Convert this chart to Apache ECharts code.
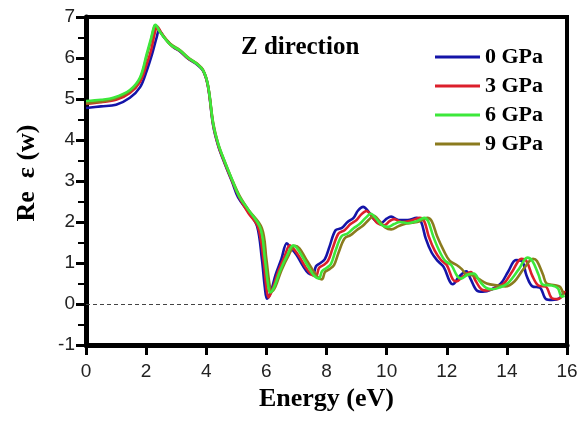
<!DOCTYPE html>
<html>
<head>
<meta charset="utf-8">
<script src="https://cdn.jsdelivr.net/npm/echarts@6/dist/echarts.min.js"></script>
</head>
<body style="margin:0">
<div id="chart" style="width:583px;height:421px"></div>
<script>
// legend names
var names = ['0 GPa', '3 GPa', '6 GPa', '9 GPa'];
var colors = ['#1414a8', '#dc1f2b', '#3ce83a', '#8b7b1e'];

// [energy (eV), Re eps]
var gpa0 = [[0,4.78],[0.5,4.82],[1,4.86],[1.46,5.03],[1.8,5.29],[2.02,5.69],[2.2,6.1],[2.35,6.5],[2.43,6.67],[2.6,6.5],[2.9,6.27],[3.13,6.16],[3.4,5.98],[3.68,5.85],[3.9,5.68],[4.06,5.3],[4.23,4.35],[4.4,3.85],[4.6,3.45],[4.85,3.0],[5.06,2.6],[5.4,2.25],[5.69,1.9],[5.85,1.1],[5.95,0.4],[6.02,0.13],[6.15,0.3],[6.3,0.7],[6.5,1.1],[6.68,1.48],[6.8,1.38],[7.0,1.2],[7.2,0.95],[7.4,0.75],[7.55,0.72],[7.65,0.92],[7.8,1.0],[7.95,1.1],[8.1,1.4],[8.3,1.8],[8.5,1.85],[8.7,2.0],[8.9,2.1],[9.05,2.28],[9.22,2.37],[9.4,2.25],[9.6,2.05],[9.8,1.97],[10.0,2.08],[10.15,2.13],[10.4,2.05],[10.7,2.05],[11.0,2.1],[11.15,2.0],[11.3,1.6],[11.5,1.25],[11.7,1.05],[11.9,0.9],[12.1,0.55],[12.2,0.48],[12.4,0.66],[12.65,0.8],[12.8,0.6],[13.0,0.33],[13.2,0.3],[13.5,0.36],[13.8,0.5],[14.05,0.8],[14.3,1.07],[14.5,1.05],[14.65,0.7],[14.85,0.43],[15.1,0.4],[15.3,0.12],[15.5,0.1],[15.75,0.14],[15.9,0.3]];
var gpa3 = [[0,4.88],[0.5,4.92],[1,4.98],[1.46,5.15],[1.8,5.42],[2.02,5.85],[2.17,6.2],[2.3,6.65],[2.37,6.77],[2.5,6.62],[2.8,6.33],[3.13,6.17],[3.4,5.99],[3.68,5.86],[3.9,5.69],[4.06,5.3],[4.23,4.38],[4.4,3.87],[4.6,3.47],[4.85,3.02],[5.1,2.6],[5.4,2.22],[5.72,1.88],[5.9,1.1],[6.0,0.4],[6.07,0.16],[6.2,0.35],[6.4,0.8],[6.6,1.15],[6.78,1.43],[6.9,1.35],[7.1,1.15],[7.3,0.9],[7.5,0.72],[7.65,0.68],[7.75,0.88],[7.9,0.95],[8.05,1.05],[8.2,1.35],[8.4,1.72],[8.6,1.8],[8.8,1.95],[9.0,2.05],[9.15,2.18],[9.33,2.27],[9.5,2.15],[9.7,1.97],[9.92,1.92],[10.1,2.02],[10.25,2.07],[10.5,2.0],[10.8,2.03],[11.1,2.1],[11.25,2.02],[11.4,1.65],[11.6,1.3],[11.8,1.08],[12.0,0.95],[12.2,0.6],[12.32,0.55],[12.55,0.68],[12.8,0.78],[12.95,0.58],[13.15,0.36],[13.35,0.33],[13.6,0.38],[13.9,0.5],[14.2,0.82],[14.48,1.1],[14.65,1.05],[14.85,0.68],[15.05,0.45],[15.3,0.42],[15.5,0.14],[15.7,0.12],[15.85,0.2],[15.92,0.32]];
var gpa6 = [[0,4.95],[0.5,4.98],[0.91,5.03],[1.46,5.22],[1.8,5.53],[2.02,6.1],[2.17,6.5],[2.27,6.78],[2.31,6.81],[2.45,6.65],[2.8,6.33],[3.13,6.18],[3.4,6.0],[3.68,5.86],[3.9,5.69],[4.06,5.32],[4.23,4.4],[4.4,3.9],[4.6,3.5],[4.85,3.05],[5.1,2.62],[5.4,2.3],[5.8,1.85],[5.95,1.1],[6.05,0.5],[6.12,0.28],[6.25,0.4],[6.45,0.8],[6.7,1.2],[6.89,1.43],[7.0,1.38],[7.2,1.15],[7.4,0.9],[7.6,0.68],[7.75,0.62],[7.85,0.8],[8.0,0.88],[8.15,0.98],[8.3,1.3],[8.5,1.65],[8.7,1.72],[8.9,1.85],[9.1,1.95],[9.3,2.1],[9.48,2.2],[9.65,2.08],[9.85,1.92],[10.05,1.88],[10.25,1.95],[10.45,2.0],[10.7,1.97],[11.0,2.02],[11.25,2.1],[11.38,2.02],[11.55,1.65],[11.75,1.3],[11.95,1.05],[12.15,0.95],[12.35,0.68],[12.48,0.62],[12.7,0.72],[12.9,0.74],[13.1,0.55],[13.3,0.4],[13.5,0.36],[13.75,0.4],[14.05,0.52],[14.4,0.85],[14.68,1.13],[14.85,1.05],[15.05,0.72],[15.2,0.47],[15.5,0.45],[15.7,0.38],[15.82,0.18],[15.92,0.2]];
var gpa9 = [[0,4.9],[0.5,4.94],[0.91,5.0],[1.46,5.19],[1.8,5.5],[2.02,6.05],[2.17,6.45],[2.27,6.76],[2.32,6.79],[2.45,6.65],[2.8,6.35],[3.13,6.19],[3.4,6.01],[3.68,5.87],[3.9,5.7],[4.06,5.33],[4.23,4.42],[4.4,3.9],[4.6,3.5],[4.85,3.05],[5.1,2.65],[5.4,2.3],[5.85,1.85],[6.0,1.1],[6.1,0.5],[6.17,0.3],[6.3,0.42],[6.5,0.82],[6.75,1.2],[6.95,1.42],[7.1,1.36],[7.3,1.12],[7.5,0.88],[7.7,0.66],[7.85,0.6],[7.95,0.78],[8.1,0.85],[8.25,0.95],[8.4,1.25],[8.6,1.6],[8.8,1.68],[9.0,1.8],[9.2,1.9],[9.4,2.05],[9.58,2.15],[9.75,2.03],[9.95,1.87],[10.15,1.82],[10.4,1.9],[10.6,1.95],[10.85,1.98],[11.1,2.02],[11.35,2.1],[11.5,2.02],[11.68,1.65],[11.9,1.3],[12.1,1.05],[12.33,0.95],[12.5,0.85],[12.65,0.72],[12.85,0.7],[13.05,0.62],[13.33,0.5],[13.7,0.45],[13.95,0.43],[14.25,0.55],[14.55,0.85],[14.87,1.1],[15.0,1.05],[15.2,0.72],[15.32,0.5],[15.6,0.46],[15.77,0.42],[15.88,0.22]];

var serif = '"Liberation Serif", serif';
var sans = '"Liberation Sans", sans-serif';

var chart = echarts.init(document.getElementById('chart'));

function lineSeries(i, data) {
    return {
        name: names[i],
        type: 'line',
        data: data,
        smooth: 0.35,
        showSymbol: false,
        lineStyle: {color: colors[i], width: 2.6},
        itemStyle: {color: colors[i]}
    };
}

// green is drawn last so it sits on top, legend order kept via legend.data
var series = [
    lineSeries(0, gpa0),
    lineSeries(1, gpa3),
    lineSeries(3, gpa9),
    lineSeries(2, gpa6)
];
// dashed zero line
series[0].markLine = {
    silent: true,
    symbol: 'none',
    label: {show: false},
    lineStyle: {color: '#444', type: [4, 3], width: 1},
    data: [{yAxis: 0}]
};

chart.setOption({
    animation: false,
    backgroundColor: '#fff',
    title: {
        text: 'Z direction',
        left: 236,
        top: 30,
        textStyle: {fontFamily: serif, fontWeight: 'bold', fontSize: 25, color: '#000'}
    },
    legend: {
        orient: 'vertical',
        left: 430,
        top: 41,
        icon: 'rect',
        itemWidth: 45,
        itemHeight: 3,
        itemGap: 7,
        data: names,
        textStyle: {fontFamily: serif, fontWeight: 'bold', fontSize: 22, color: '#000'}
    },
    grid: {left: 86, right: 16, top: 17, bottom: 76},
    xAxis: {
        type: 'value',
        min: 0, max: 16, interval: 2,
        name: 'Energy (eV)',
        nameLocation: 'middle',
        nameGap: 37,
        nameTextStyle: {fontFamily: serif, fontWeight: 'bold', fontSize: 26, color: '#000'},
        axisLine: {onZero: false, lineStyle: {color: '#000', width: 5}},
        axisTick: {show: true, length: 10, lineStyle: {color: '#000', width: 3}},
        axisLabel: {fontFamily: sans, fontSize: 19, color: '#222', margin: 17},
        splitLine: {show: false}
    },
    yAxis: {
        type: 'value',
        min: -1, max: 7, interval: 1,
        name: 'Re  \u03b5 (w)',
        nameLocation: 'middle',
        nameGap: 46,
        nameTextStyle: {fontFamily: serif, fontWeight: 'bold', fontSize: 26, color: '#000', padding: [0, 0, 0, 16]},
        axisLine: {show: true, onZero: false, lineStyle: {color: '#000', width: 5}},
        axisTick: {show: true, length: 10, lineStyle: {color: '#000', width: 3}},
        minorTick: {show: true, splitNumber: 2, length: 8, lineStyle: {color: '#000', width: 2}},
        axisLabel: {fontFamily: sans, fontSize: 19, color: '#222', margin: 11},
        splitLine: {show: false}
    },
    series: series
});

// top and right frame edges, placed from the grid's own pixel box
var box = chart.getModel().getComponent('grid').coordinateSystem.getRect();
chart.setOption({
    graphic: [{
        type: 'polyline',
        silent: true,
        shape: {points: [[box.x, box.y], [box.x + box.width, box.y], [box.x + box.width, box.y + box.height]]},
        style: {stroke: '#000', lineWidth: 4, fill: null}
    }]
});
</script>
</body>
</html>
